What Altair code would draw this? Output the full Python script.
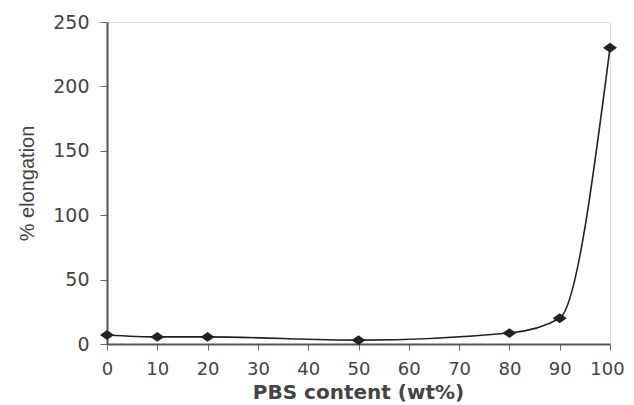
import altair as alt
import pandas as pd

pbs_content = [0, 10, 20, 50, 80, 90, 100]
elongation = [7, 5.5, 5.5, 3, 8.5, 20, 230]

df = pd.DataFrame({"pbs": pbs_content, "elong": elongation})

x_enc = alt.X(
    "pbs:Q",
    scale=alt.Scale(domain=[0, 100], nice=False),
    axis=alt.Axis(
        title="PBS content (wt%)",
        values=list(range(0, 101, 10)),
        grid=False,
        tickSize=6,
        tickColor="#666",
        domainColor="#555",
        domainWidth=2,
        labelFont="DejaVu Sans",
        labelFontSize=18,
        labelColor="#444",
        labelBaseline="middle",
        labelPadding=19,
        labelFlush=False,
        labelOverlap=False,
        labelOffset={"condition": {"test": "datum.value == 100", "value": -3}, "value": 0},
        titleFont="DejaVu Sans",
        titleFontSize=20,
        titleFontWeight="bold",
        titleColor="#444",
        titleX=251,
        titleY=48,
        titleBaseline="middle",
        titleAlign="center",
    ),
)
y_enc = alt.Y(
    "elong:Q",
    scale=alt.Scale(domain=[0, 250], nice=False),
    axis=alt.Axis(
        title="% elongation",
        values=list(range(0, 251, 50)),
        grid=False,
        tickSize=7,
        tickColor="#666",
        domainColor="#555",
        domainWidth=2,
        labelFont="DejaVu Sans",
        labelFontSize=19,
        labelColor="#444",
        labelPadding=11,
        labelFlush=False,
        labelOverlap=False,
        titleFont="Liberation Sans",
        titleFontSize=20,
        titleFontWeight="normal",
        titleColor="#444",
        titleAngle=-90,
        titleX=-80,
        titleY=161,
        titleBaseline="middle",
        titleAlign="center",
    ),
)

line = alt.Chart(df).mark_line(
    interpolate="monotone", color="#222", strokeWidth=1.6
).encode(x=x_enc, y=y_enc)

points = alt.Chart(df).mark_point(
    shape="M-1,0L0,-0.7L1,0L0,0.7Z", size=196, filled=True, color="#222", opacity=1
).encode(x="pbs:Q", y="elong:Q")

chart = (
    alt.layer(line, points)
    .properties(
        width=503,
        height=322,
        autosize=alt.AutoSizeParams(type="none"),
        padding={"left": 99, "top": 14, "right": 16, "bottom": 60},
    )
    .configure_view(stroke="#666", strokeWidth=2)
    .configure(background="white")
)

chart.save("out.html", embed_options={"renderer": "svg", "actions": False})
